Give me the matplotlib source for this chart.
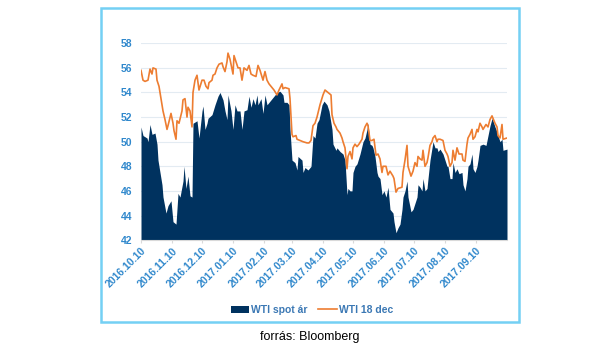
import pandas as pd
import numpy as np
import matplotlib
matplotlib.use("Agg")
import matplotlib.pyplot as plt
import matplotlib.dates as mdates
from matplotlib.patches import Rectangle, Patch
from matplotlib.lines import Line2D

plt.rcParams['font.family'] = ['Liberation Sans', 'DejaVu Sans']

start = pd.Timestamp('2016-10-10')

# WTI spot price (days after 2016.10.10, USD/bbl)
spot_days = [0, 2, 6, 7, 9, 11, 14, 16, 17, 21, 22, 25, 27, 30, 32, 35, 37, 39, 42, 43,
             45, 47, 49, 51, 52, 56, 58, 61, 62, 64, 66, 67, 71, 74, 77, 79, 82, 84, 86, 87,
             90, 92, 94, 96, 99, 101, 103, 106, 108, 110, 112, 114, 116, 117, 120, 122, 124, 126, 129, 132,
             136, 139, 142, 143, 146, 148, 149, 151, 154, 156, 157, 161, 162, 164, 167, 170, 172, 174, 176, 178,
             181, 183, 186, 188, 191, 192, 195, 196, 199, 202, 204, 206, 207, 209, 211, 212, 214, 216, 219, 222,
             224, 226, 227, 229, 231, 232, 234, 236, 237, 239, 241, 243, 245, 247, 249, 252, 253, 255, 257, 259,
             261, 262, 264, 266, 267, 270, 272, 274, 276, 277, 279, 281, 282, 284, 286, 287, 289, 291, 292, 294,
             296, 297, 299, 302, 304, 306, 307, 309, 311, 312, 314, 316, 318, 321, 322, 324, 326, 327, 329, 331,
             332, 334, 336, 337, 339, 342, 345, 347, 349, 351, 352, 354, 356, 357, 359, 361, 362, 366]
spot = [51.2, 50.5, 50.3, 50.0, 51.4, 50.6, 50.7, 49.8, 48.5, 46.5, 45.5, 44.2, 44.8, 45.2, 43.5, 43.3, 45.8, 45.5, 46.8, 48.0,
        46.2, 47.2, 45.6, 45.5, 51.5, 51.7, 50.3, 52.5, 52.9, 51.0, 51.5, 51.9, 52.2, 53.0, 53.7, 54.0, 53.4, 52.5, 51.8, 53.8,
        52.5, 51.0, 53.0, 52.5, 52.5, 51.0, 52.5, 52.6, 53.7, 52.8, 53.5, 53.0, 53.8, 53.0, 53.5, 52.3, 53.8, 53.0, 53.3, 53.6,
        54.0, 54.1, 53.8, 53.2, 53.2, 53.0, 51.0, 48.5, 48.3, 47.7, 48.8, 48.5, 47.5, 47.9, 47.7, 48.0, 50.5, 50.3, 51.5, 51.8,
        53.0, 53.3, 53.0, 52.5, 51.0, 49.8, 49.3, 49.5, 49.2, 49.0, 48.5, 45.7, 46.2, 46.0, 46.0, 47.5, 48.0, 48.2, 49.0, 50.0,
        50.3, 51.0, 51.5, 49.8, 49.7, 49.5, 48.8, 47.5, 47.2, 47.0, 45.7, 46.0, 45.5, 46.3, 44.5, 44.2, 43.5, 42.6, 43.0, 43.3,
        44.5, 45.5, 46.0, 46.8, 45.5, 44.3, 44.5, 45.0, 45.5, 46.5, 46.3, 46.0, 47.0, 46.0, 46.2, 47.0, 48.5, 49.5, 50.0, 49.5,
        49.5, 49.2, 49.4, 49.0, 48.5, 48.0, 48.0, 47.0, 47.0, 48.3, 47.5, 47.8, 47.4, 47.5, 46.5, 46.0, 47.0, 48.0, 48.2, 49.0,
        47.8, 47.5, 48.0, 48.5, 49.7, 49.8, 49.7, 50.5, 51.3, 51.9, 51.7, 51.2, 50.8, 50.5, 50.0, 50.2, 49.3, 49.4]

# WTI 2018 December futures
fut_days = [0, 2, 4, 7, 9, 11, 12, 15, 16, 18, 21, 22, 24, 26, 27, 30, 32, 33, 35, 36,
            38, 41, 42, 44, 46, 47, 49, 51, 52, 54, 56, 58, 61, 63, 65, 67, 68, 71, 72, 74,
            76, 78, 81, 82, 84, 86, 87, 89, 92, 93, 95, 97, 99, 101, 103, 106, 108, 110, 112, 115,
            117, 119, 122, 124, 126, 128, 131, 133, 136, 138, 141, 142, 144, 148, 149, 151, 152, 155, 156, 159,
            162, 166, 168, 170, 172, 174, 176, 179, 182, 184, 187, 190, 191, 193, 195, 196, 199, 201, 202, 204,
            206, 207, 209, 211, 212, 214, 216, 218, 221, 222, 224, 226, 227, 229, 231, 233, 235, 237, 239, 241,
            242, 245, 247, 249, 252, 253, 255, 257, 261, 262, 264, 266, 267, 270, 272, 274, 276, 277, 279, 281,
            282, 284, 286, 287, 289, 291, 292, 294, 296, 297, 299, 302, 304, 306, 307, 309, 311, 312, 314, 316,
            318, 321, 322, 324, 326, 327, 329, 331, 332, 334, 336, 337, 339, 341, 342, 345, 347, 349, 351, 352,
            354, 356, 357, 359, 361, 362, 366]
fut = [55.8, 55.0, 54.9, 55.0, 55.9, 55.5, 56.0, 55.9, 55.0, 54.5, 53.0, 52.5, 51.8, 51.0, 51.3, 52.3, 51.5, 50.9, 50.2, 51.7,
       51.5, 52.5, 53.4, 53.5, 52.0, 52.8, 52.5, 51.2, 54.0, 55.0, 55.4, 54.2, 55.0, 55.0, 54.5, 54.3, 54.8, 55.0, 55.4, 55.5,
       56.0, 56.3, 56.4, 56.1, 55.7, 56.5, 57.2, 56.7, 55.5, 57.0, 56.5, 56.0, 56.0, 55.0, 56.0, 55.8, 56.2, 55.5, 55.4, 55.3,
       56.2, 55.8, 55.0, 55.7, 55.0, 54.7, 54.4, 54.2, 53.8, 54.2, 54.7, 54.3, 54.4, 54.3, 53.5, 50.6, 50.4, 50.5, 50.2, 50.1,
       50.0, 49.9, 49.9, 50.1, 51.3, 51.5, 52.0, 53.0, 53.8, 54.2, 54.0, 53.8, 52.2, 51.5, 51.2, 51.0, 50.7, 50.3, 50.0, 49.5,
       47.8, 48.8, 49.2, 48.6, 49.5, 49.8, 49.6, 49.8, 50.2, 50.7, 51.2, 51.5, 51.3, 50.1, 50.1, 50.2, 48.9, 49.0, 48.6, 47.5,
       48.0, 48.0, 47.3, 47.6, 47.2, 47.0, 45.9, 46.2, 46.3, 47.5, 48.5, 49.7, 48.0, 47.2, 47.6, 48.3, 48.0, 48.8, 48.6, 48.5,
       49.3, 48.0, 48.3, 48.7, 49.7, 50.0, 50.3, 50.5, 50.0, 50.2, 50.2, 50.1, 49.3, 49.0, 48.8, 48.0, 48.3, 49.3, 48.5, 49.5,
       49.0, 49.0, 48.5, 48.4, 49.8, 50.3, 50.6, 51.0, 50.2, 50.4, 51.0, 50.8, 51.5, 51.2, 51.0, 51.4, 51.2, 51.8, 52.1, 51.9,
       51.5, 51.2, 50.5, 50.3, 51.4, 50.2, 50.3]

yticks = [42, 44, 46, 48, 50, 52, 54, 56, 58]
xtick_dates = pd.date_range('2016-10-10', periods=12, freq=pd.DateOffset(months=1))

navy = '#00325f'
orange = '#ed7d31'
tickblue = '#3088cc'

spot_dt = start + pd.to_timedelta(spot_days, unit='D')
fut_dt = start + pd.to_timedelta(fut_days, unit='D')

fig = plt.figure(figsize=(6.0, 3.49), dpi=100)
ax = fig.add_axes([0.235, 0.312, 0.61, 0.564])

ax.fill_between(spot_dt, 42, spot, color=navy, linewidth=0, zorder=2)
ax.plot(fut_dt, fut, color=orange, linewidth=1.2, zorder=3)

ax.set_ylim(42, 58)
ax.set_yticks(yticks)
ax.set_xlim(start, start + pd.Timedelta(days=366))
ax.set_xticks(xtick_dates)
ax.xaxis.set_major_formatter(mdates.DateFormatter('%Y.%m.%d'))

ax.grid(axis='y', color='#e3ebf2', linewidth=0.8, zorder=0)
for s in ['top', 'right', 'left']:
    ax.spines[s].set_visible(False)
ax.spines['bottom'].set_color('#d9d9d9')
ax.tick_params(axis='y', length=0, pad=6, labelsize=7.5, labelcolor=tickblue)
ax.tick_params(axis='x', length=2, color='#d9d9d9', pad=2, labelsize=7.5, labelcolor=tickblue)
for lab in ax.get_yticklabels():
    lab.set_fontweight('bold')
for lab in ax.get_xticklabels():
    lab.set_fontweight('bold')
    lab.set_rotation(45)
    lab.set_ha('right')
    lab.set_rotation_mode('anchor')

handles = [Patch(facecolor=navy, edgecolor='none'),
           Line2D([], [], color=orange, linewidth=1.2)]
leg = fig.legend(handles, ['WTI spot ár', 'WTI 18 dec'], loc='center',
                 bbox_to_anchor=(0.52, 0.112), ncol=2, frameon=False,
                 prop={'size': 7.5, 'weight': 'bold'}, handlelength=1.8,
                 handletextpad=0.2, columnspacing=1.0)
for t in leg.get_texts():
    t.set_color('#3b78b4')

fig.patches.append(Rectangle((101 / 600, 1 - 322 / 349), 418 / 600, 314 / 349,
                             transform=fig.transFigure, fill=False,
                             edgecolor='#74d0f4', linewidth=1.8))

fig.text(0.517, 1 - 337 / 349, 'forrás: Bloomberg', ha='center', va='center',
         fontsize=9, color='black')

fig.savefig('out.png', dpi=100)
